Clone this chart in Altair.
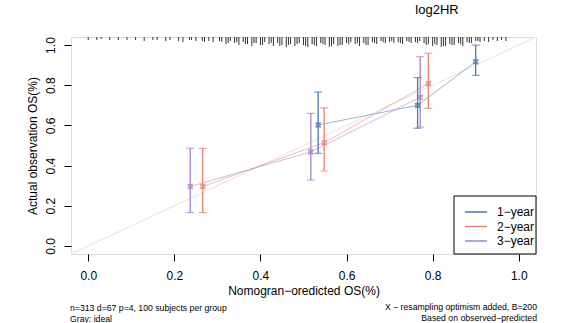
import altair as alt
import pandas as pd

# ---------------- data ----------------
series = ["1-year"] * 3 + ["2-year"] * 3 + ["3-year"] * 3
pred = [0.534, 0.765, 0.900, 0.266, 0.548, 0.790, 0.237, 0.517, 0.771]
obs = [0.602, 0.700, 0.917, 0.296, 0.514, 0.808, 0.296, 0.468, 0.740]
lo = [0.461, 0.586, 0.849, 0.166, 0.373, 0.685, 0.166, 0.328, 0.592]
hi = [0.766, 0.838, 1.000, 0.486, 0.687, 0.959, 0.486, 0.660, 0.942]

rug_x = [0.00, 0.02, 0.03, 0.05, 0.07, 0.09, 0.11, 0.13, 0.15, 0.16, 0.18, 0.19,
         0.21, 0.22, 0.24, 0.25, 0.27, 0.28, 0.29, 0.31, 0.32, 0.33, 0.34, 0.35,
         0.36, 0.37, 0.38, 0.39, 0.40, 0.41, 0.42, 0.43, 0.44, 0.45, 0.46, 0.47,
         0.48, 0.49, 0.50, 0.51, 0.52, 0.53, 0.54, 0.55, 0.56, 0.57, 0.58, 0.59,
         0.60, 0.61, 0.62, 0.63, 0.64, 0.65, 0.66, 0.67, 0.68, 0.69, 0.70, 0.71,
         0.72, 0.73, 0.74, 0.75, 0.76, 0.77, 0.78, 0.79, 0.80, 0.81, 0.82, 0.83,
         0.84, 0.85, 0.86, 0.87, 0.88, 0.89, 0.90, 0.91, 0.92, 0.93, 0.94, 0.95,
         0.96, 0.97,
         0.235, 0.265, 0.305, 0.325, 0.345, 0.365, 0.385, 0.405, 0.425, 0.445,
         0.465, 0.485, 0.505, 0.525, 0.545, 0.565, 0.585, 0.605, 0.625, 0.645,
         0.665, 0.685, 0.705, 0.725, 0.745, 0.765, 0.785, 0.805, 0.825, 0.845,
         0.865, 0.885, 0.905]
rug_h = [0.015, 0.015, 0.010, 0.015, 0.015, 0.015, 0.015, 0.020, 0.015, 0.015, 0.020, 0.015,
         0.020, 0.025, 0.015, 0.020, 0.025, 0.020, 0.025, 0.025, 0.035, 0.020, 0.030, 0.040,
         0.025, 0.035, 0.045, 0.030, 0.040, 0.025, 0.035, 0.045, 0.030, 0.040, 0.050, 0.035,
         0.045, 0.030, 0.040, 0.050, 0.035, 0.045, 0.030, 0.040, 0.050, 0.035, 0.045, 0.040,
         0.030, 0.025, 0.035, 0.045, 0.030, 0.040, 0.025, 0.035, 0.020, 0.030, 0.025, 0.030,
         0.025, 0.035, 0.020, 0.030, 0.025, 0.020, 0.030, 0.035, 0.045, 0.040, 0.050, 0.045,
         0.035, 0.040, 0.030, 0.045, 0.025, 0.030, 0.020, 0.025, 0.020, 0.025, 0.015, 0.020,
         0.015, 0.020,
         0.015, 0.020, 0.020, 0.030, 0.025, 0.035, 0.030, 0.040, 0.030, 0.045,
         0.040, 0.035, 0.045, 0.040, 0.035, 0.045, 0.040, 0.035, 0.030, 0.040,
         0.030, 0.025, 0.020, 0.030, 0.025, 0.030, 0.040, 0.035, 0.045, 0.040,
         0.035, 0.030, 0.020]

ideal_x = [-0.04, 1.04]
ideal_y = [-0.04, 1.04]

legend_labels = ["1-year", "2-year", "3-year"]
legend_text = ["1\u2212year", "2\u2212year", "3\u2212year"]
colors = ["#4A77AD", "#E8806F", "#A585C4"]

# ---------------- frames ----------------
df = pd.DataFrame({"series": series, "pred": pred, "obs": obs, "lo": lo, "hi": hi})
rug = pd.DataFrame({"x": rug_x, "top": [1.04] * len(rug_x),
                    "bot": [1.04 - h for h in rug_h]})
ideal = pd.DataFrame({"x": ideal_x, "y": ideal_y})
one = pd.DataFrame({"a": [0]})

DOM = [-0.04, 1.04]
FONT = "Liberation Sans"
xs = alt.Scale(domain=DOM, nice=False, zero=False)
ys = alt.Scale(domain=DOM, nice=False, zero=False)
cs = alt.Scale(domain=legend_labels, range=colors)

xaxis = alt.Axis(values=[0, 0.2, 0.4, 0.6, 0.8, 1.0], format=".1f", grid=False,
                 domain=False, tickSize=7, tickColor="black", labelColor="black",
                 labelFontSize=12, labelFont=FONT, labelPadding=9,
                 title="Nomogran\u2212oredicted OS(%)", titleFont=FONT,
                 titleFontSize=12, titleFontWeight="normal", titleColor="black",
                 titlePadding=4)
yaxis = alt.Axis(values=[0, 0.2, 0.4, 0.6, 0.8, 1.0], format=".1f", grid=False,
                 domain=False, tickSize=7, tickColor="black", labelColor="black",
                 labelFontSize=12, labelFont=FONT, labelAngle=-90,
                 labelAlign="center", labelBaseline="bottom", labelPadding=7,
                 title="Actual observation OS(%)", titleFont=FONT,
                 titleFontSize=12, titleFontWeight="normal", titleColor="black",
                 titlePadding=5)

ideal_line = alt.Chart(ideal).mark_line(color="#e9e9e9", strokeWidth=1.3, clip=True).encode(
    x=alt.X("x:Q", scale=xs, axis=xaxis),
    y=alt.Y("y:Q", scale=ys, axis=yaxis),
)

rug_layer = alt.Chart(rug).mark_rule(color="black", strokeWidth=0.8).encode(
    x=alt.X("x:Q", scale=xs), y=alt.Y("top:Q", scale=ys), y2="bot:Q"
)

lines = alt.Chart(df).mark_line(strokeWidth=1, opacity=0.55).encode(
    x=alt.X("pred:Q", scale=xs), y=alt.Y("obs:Q", scale=ys),
    color=alt.Color("series:N", scale=cs, legend=None),
    order="pred:Q",
)

bars = alt.Chart(df).mark_rule(strokeWidth=1.3).encode(
    x=alt.X("pred:Q", scale=xs), y=alt.Y("lo:Q", scale=ys), y2="hi:Q",
    color=alt.Color("series:N", scale=cs, legend=None),
)
cap_lo = alt.Chart(df).mark_tick(orient="horizontal", size=8, thickness=1.2).encode(
    x=alt.X("pred:Q", scale=xs), y=alt.Y("lo:Q", scale=ys),
    color=alt.Color("series:N", scale=cs, legend=None),
)
cap_hi = alt.Chart(df).mark_tick(orient="horizontal", size=8, thickness=1.2).encode(
    x=alt.X("pred:Q", scale=xs), y=alt.Y("hi:Q", scale=ys),
    color=alt.Color("series:N", scale=cs, legend=None),
)
circles = alt.Chart(df).mark_point(shape="circle", size=20, filled=False,
                                   strokeWidth=1, opacity=0.6).encode(
    x=alt.X("pred:Q", scale=xs), y=alt.Y("obs:Q", scale=ys),
    color=alt.Color("series:N", scale=cs, legend=None),
)
crosses = alt.Chart(df).mark_point(shape="M-1,-1L1,1M-1,1L1,-1", size=26, filled=False,
                                   strokeWidth=1.5).encode(
    x=alt.X("pred:Q", scale=xs), y=alt.Y("obs:Q", scale=ys),
    color=alt.Color("series:N", scale=cs, legend=None),
)

# legend box
leg_box = alt.Chart(one).mark_rect(fill="white", stroke="black", strokeWidth=1).encode(
    x=alt.value(383), x2=alt.value(465), y=alt.value(159), y2=alt.value(217)
)
leg_layers = []
for i, (lab, col) in enumerate(zip(legend_text, colors)):
    yy = 175 + i * 14.5
    leg_layers.append(alt.Chart(one).mark_rule(color=col, strokeWidth=1.5).encode(
        x=alt.value(394), x2=alt.value(416), y=alt.value(yy)))
    leg_layers.append(alt.Chart(one).mark_text(text=lab, align="left", baseline="middle",
                                               font=FONT, fontSize=12, color="black").encode(
        x=alt.value(426), y=alt.value(yy)))

def note(txt, x, y, align, size):
    return alt.Chart(one).mark_text(text=txt, align=align, baseline="middle", font=FONT,
                                    fontSize=size, color="black").encode(
        x=alt.value(x), y=alt.value(y))

notes = [
    note("log2HR", 366, -27, "center", 13),
    note("n=313 d=67 p=4, 100 subjects per group", -1, 271, "left", 8.7),
    note("Gray: ideal", -1, 281.5, "left", 8.7),
    note("X \u2212 resampling optimism added, B=200", 466, 270, "right", 8.7),
    note("Based on observed\u2212predicted", 466, 280.5, "right", 8.7),
]

chart = alt.layer(ideal_line, rug_layer, lines, bars, cap_lo, cap_hi, circles, crosses,
                  leg_box, *leg_layers, *notes).properties(
    width=465, height=217,
    autosize=alt.AutoSizeParams(type="none"),
    padding={"left": 71, "top": 37, "right": 30, "bottom": 69},
).configure_view(stroke="black", strokeWidth=1).configure(background="white")

chart.save("out.html", embed_options={"renderer": "svg", "actions": False})
